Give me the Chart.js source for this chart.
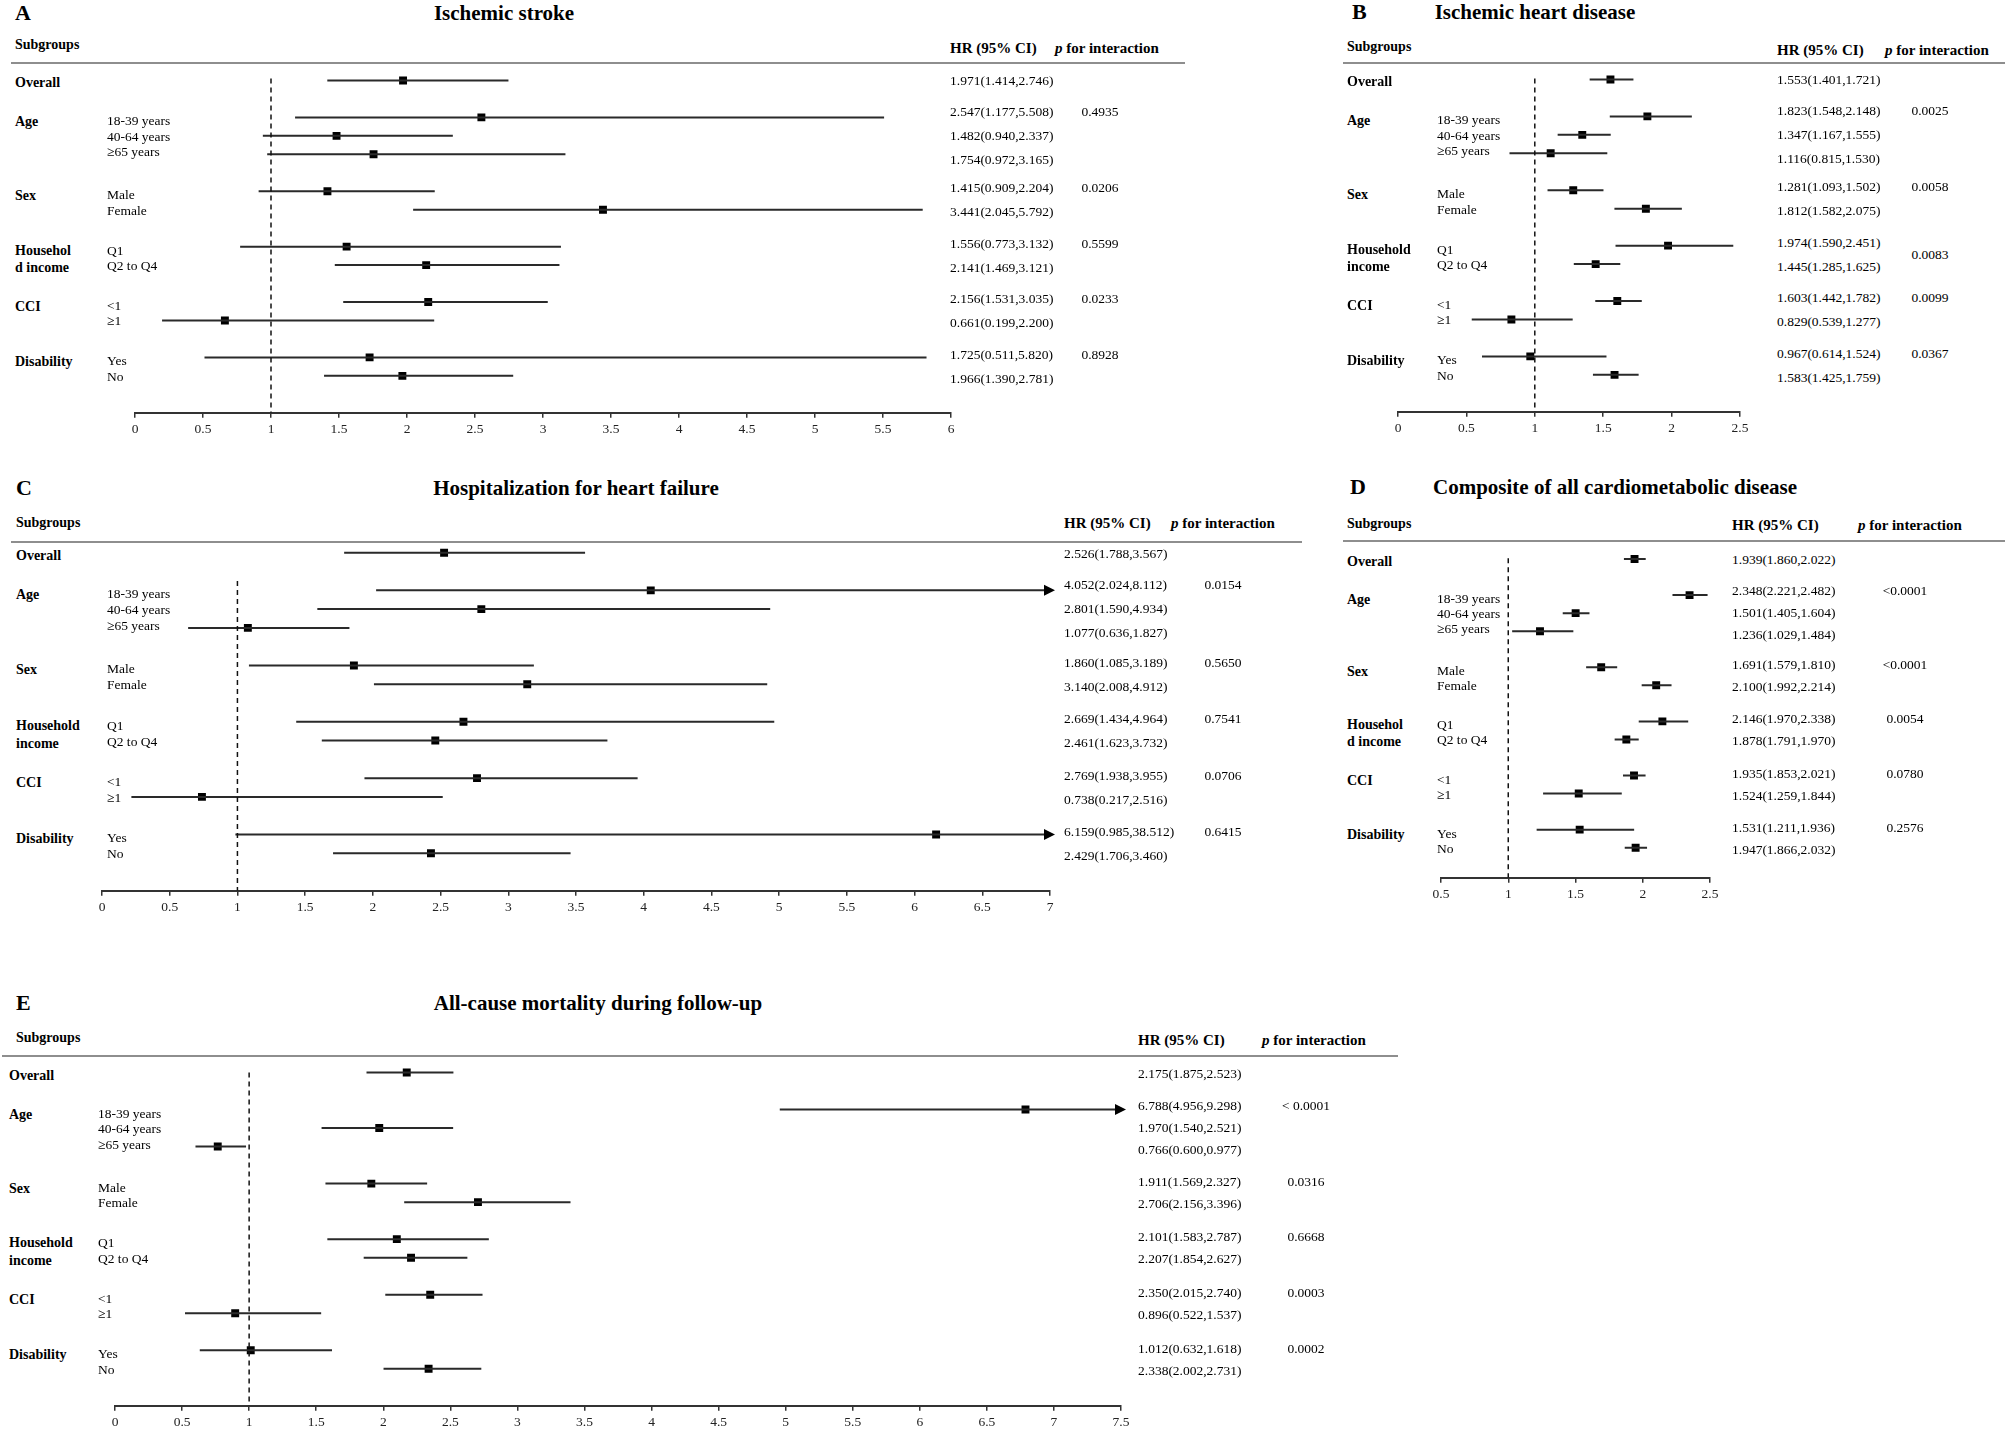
<!DOCTYPE html>
<html>
<head>
<meta charset="utf-8">
<script src="https://cdn.jsdelivr.net/npm/chart.js@4.4.0/dist/chart.umd.min.js"></script>
<style>
  html, body { margin: 0; padding: 0; background: #fff; }
  #page { position: relative; width: 2006px; height: 1430px; overflow: hidden;
          font-family: "Liberation Serif", "Times New Roman", serif; color: #000; }
  .t { position: absolute; white-space: nowrap; line-height: 1; transform: translateY(-50%); }
  .mid { transform: translate(-50%, -50%); }
  .b { font-weight: bold; }
  .rule { position: absolute; height: 2px; background: #8e8e8e; }
  canvas { position: absolute; }
</style>
</head>
<body>
<div id="page"></div>
<script>
// Subgroup structure (shared by all five panels)
const groupNames = ['Overall', 'Age', 'Sex', 'Household income', 'CCI', 'Disability'];
const rowLabels = ['', '18-39 years', '40-64 years', '≥65 years', 'Male', 'Female', 'Q1', 'Q2 to Q4', '<1', '≥1', 'Yes', 'No'];
const rowGroup = [0, 1, 1, 1, 2, 2, 3, 3, 4, 4, 5, 5];

// A - Ischemic stroke
const strokeHR = [1.971, 2.547, 1.482, 1.754, 1.415, 3.441, 1.556, 2.141, 2.156, 0.661, 1.725, 1.966];
const strokeLo = [1.414, 1.177, 0.940, 0.972, 0.909, 2.045, 0.773, 1.469, 1.531, 0.199, 0.511, 1.390];
const strokeHi = [2.746, 5.508, 2.337, 3.165, 2.204, 5.792, 3.132, 3.121, 3.035, 2.200, 5.820, 2.781];
const strokeP = ['0.4935', '0.0206', '0.5599', '0.0233', '0.8928'];
const strokeTicks = [0, 6];

// B - Ischemic heart disease
const ihdHR = [1.553, 1.823, 1.347, 1.116, 1.281, 1.812, 1.974, 1.445, 1.603, 0.829, 0.967, 1.583];
const ihdLo = [1.401, 1.548, 1.167, 0.815, 1.093, 1.582, 1.590, 1.285, 1.442, 0.539, 0.614, 1.425];
const ihdHi = [1.721, 2.148, 1.555, 1.530, 1.502, 2.075, 2.451, 1.625, 1.782, 1.277, 1.524, 1.759];
const ihdP = ['0.0025', '0.0058', '0.0083', '0.0099', '0.0367'];
const ihdTicks = [0, 2.5];

// C - Hospitalization for heart failure
const hfHR = [2.526, 4.052, 2.801, 1.077, 1.860, 3.140, 2.669, 2.461, 2.769, 0.738, 6.159, 2.429];
const hfLo = [1.788, 2.024, 1.590, 0.636, 1.085, 2.008, 1.434, 1.623, 1.938, 0.217, 0.985, 1.706];
const hfHi = [3.567, 8.112, 4.934, 1.827, 3.189, 4.912, 4.964, 3.732, 3.955, 2.516, 38.512, 3.460];
const hfP = ['0.0154', '0.5650', '0.7541', '0.0706', '0.6415'];
const hfTicks = [0, 7];

// D - Composite of all cardiometabolic disease
const cmdHR = [1.939, 2.348, 1.501, 1.236, 1.691, 2.100, 2.146, 1.878, 1.935, 1.524, 1.531, 1.947];
const cmdLo = [1.860, 2.221, 1.405, 1.029, 1.579, 1.992, 1.970, 1.791, 1.853, 1.259, 1.211, 1.866];
const cmdHi = [2.022, 2.482, 1.604, 1.484, 1.810, 2.214, 2.338, 1.970, 2.021, 1.844, 1.936, 2.032];
const cmdP = ['<0.0001', '<0.0001', '0.0054', '0.0780', '0.2576'];
const cmdTicks = [0.5, 2.5];

// E - All-cause mortality during follow-up
const mortHR = [2.175, 6.788, 1.970, 0.766, 1.911, 2.706, 2.101, 2.207, 2.350, 0.896, 1.012, 2.338];
const mortLo = [1.875, 4.956, 1.540, 0.600, 1.569, 2.156, 1.583, 1.854, 2.015, 0.522, 0.632, 2.002];
const mortHi = [2.523, 9.298, 2.521, 0.977, 2.327, 3.396, 2.787, 2.627, 2.740, 1.537, 1.618, 2.731];
const mortP = ['< 0.0001', '0.0316', '0.6668', '0.0003', '0.0002'];
const mortTicks = [0, 7.5];

// page layout of each panel
const panels = [
  { letter: 'A', title: 'Ischemic stroke', hr: strokeHR, lo: strokeLo, hi: strokeHi, p: strokeP, range: strokeTicks,
    house: ['Househol', 'd income'], left: 135, right: 951, row0: 80, axisY: 412, yMax: 18, refTop: -0.1,
    letterX: 15, titleX: 504, titleY: 13, subX0: 15, subY: 45, headY: 48, ruleY: 63, ruleL: 11, ruleR: 1185,
    labelX: 15, subX: 107, hrX: 950, pX: 1100, pHeadX: 1055, gap: 24, pMid: [] },
  { letter: 'B', title: 'Ischemic heart disease', hr: ihdHR, lo: ihdLo, hi: ihdHi, p: ihdP, range: ihdTicks,
    house: ['Household', 'income'], left: 1398, right: 1740, row0: 79, axisY: 411, yMax: 18, refTop: -0.05,
    letterX: 1352, titleX: 1535, titleY: 12, subX0: 1347, subY: 47, headY: 50, ruleY: 63, ruleL: 1343, ruleR: 2005,
    labelX: 1347, subX: 1437, hrX: 1777, pX: 1930, pHeadX: 1885, gap: 24, pMid: [3] },
  { letter: 'C', title: 'Hospitalization for heart failure', hr: hfHR, lo: hfLo, hi: hfHi, p: hfP, range: hfTicks,
    house: ['Household', 'income'], left: 102, right: 1050, row0: 553, axisY: 890, yMax: 18, refTop: 1.5,
    letterX: 16, titleX: 576, titleY: 488, subX0: 16, subY: 523, headY: 523, ruleY: 542, ruleL: 11, ruleR: 1302,
    labelX: 16, subX: 107, hrX: 1064, pX: 1223, pHeadX: 1171, gap: 24, pMid: [] },
  { letter: 'D', title: 'Composite of all cardiometabolic disease', hr: cmdHR, lo: cmdLo, hi: cmdHi, p: cmdP, range: cmdTicks,
    house: ['Househol', 'd income'], left: 1441, right: 1710, row0: 559, axisY: 877, yMax: 17.67, refTop: -0.05,
    letterX: 1350, titleX: 1615, titleY: 487, subX0: 1347, subY: 524, headY: 525, ruleY: 541, ruleL: 1343, ruleR: 2005,
    labelX: 1347, subX: 1437, hrX: 1732, pX: 1905, pHeadX: 1858, gap: 22, pMid: [] },
  { letter: 'E', title: 'All-cause mortality during follow-up', hr: mortHR, lo: mortLo, hi: mortHi, p: mortP, range: mortTicks,
    house: ['Household', 'income'], left: 115, right: 1121, row0: 1072, axisY: 1405, yMax: 18, refTop: 0,
    letterX: 16, titleX: 598, titleY: 1003, subX0: 16, subY: 1038, headY: 1040, ruleY: 1056, ruleL: 2, ruleR: 1398,
    labelX: 9, subX: 98, hrX: 1138, pX: 1306, pHeadX: 1262, gap: 22, pMid: [] }
];

const TICK_FONT = 13.5;
const page = document.getElementById('page');

function text(str, x, y, size, cls) {
  const d = document.createElement('div');
  d.className = 't ' + (cls || '');
  d.style.left = x + 'px';
  d.style.top = y + 'px';
  d.style.fontSize = size + 'px';
  d.textContent = str;
  page.appendChild(d);
  return d;
}

function buildPanel(pn) {
  const [xMin, xMax] = pn.range;
  const step = (pn.axisY - pn.row0) / pn.yMax;
  const top = Math.round(pn.row0 - step);
  const W = pn.right - pn.left + 40;
  // axis box = tick length + label line height + 2 * tick padding, then bottom padding
  const H = Math.ceil((pn.axisY - top) + 5 + TICK_FONT * 1.2 + 8 + 5);

  const cv = document.createElement('canvas');
  cv.width = W; cv.height = H;
  cv.style.left = (pn.left - 20) + 'px';
  cv.style.top = top + 'px';
  cv.style.width = W + 'px';
  cv.style.height = H + 'px';
  page.appendChild(cv);

  const slots = rowGroup.map((g, i) => i + g);
  const pts = pn.hr.map((v, i) => ({ x: v, y: slots[i] }));
  const ci = [];
  pn.lo.forEach((lo, i) => {
    const hi = Math.min(pn.hi[i], xMax);
    ci.push({ x: lo, y: slots[i] }, { x: hi, y: slots[i] }, { x: hi, y: null });
  });
  const ref = [{ x: 1, y: pn.refTop }, { x: 1, y: pn.yMax }];

  // arrowheads for intervals running past the axis
  const arrows = {
    id: 'arrows',
    afterDatasetsDraw(chart) {
      const { ctx, scales: { x, y } } = chart;
      ctx.save();
      ctx.fillStyle = '#000';
      pn.hi.forEach((hi, i) => {
        if (hi <= xMax) return;
        const px = x.getPixelForValue(xMax), py = y.getPixelForValue(slots[i]);
        ctx.beginPath();
        ctx.moveTo(px + 5, py);
        ctx.lineTo(px - 6, py - 5.5);
        ctx.lineTo(px - 6, py + 5.5);
        ctx.closePath();
        ctx.fill();
      });
      ctx.restore();
    }
  };

  const chart = new Chart(cv, {
    type: 'scatter',
    data: {
      datasets: [
        { type: 'line', data: ref, borderColor: '#111', borderWidth: 1.5, borderDash: [5, 4], pointRadius: 0, fill: false },
        { type: 'line', data: ci, borderColor: '#2a2a2a', borderWidth: 2, pointRadius: 0, spanGaps: false, fill: false },
        { data: pts, pointStyle: 'rect', pointRadius: 5.6, backgroundColor: '#000', borderColor: '#000', borderWidth: 0 }
      ]
    },
    options: {
      responsive: false,
      animation: false,
      events: [],
      layout: { padding: { left: 20, right: 20, top: 0, bottom: 5 }, autoPadding: false },
      plugins: { legend: { display: false }, tooltip: { enabled: false } },
      scales: {
        x: {
          type: 'linear', min: xMin, max: xMax, position: 'bottom',
          ticks: { stepSize: 0.5, autoSkip: false, maxRotation: 0, padding: 4, color: '#222',
                   font: { family: 'Liberation Serif', size: TICK_FONT }, callback: v => String(v) },
          grid: { drawOnChartArea: false, drawTicks: true, tickLength: 5, color: '#333', lineWidth: 1.5 },
          border: { display: true, color: '#333', width: 2 }
        },
        y: { type: 'linear', display: false, min: -1, max: pn.yMax, reverse: true }
      }
    },
    plugins: [arrows]
  });

  // text parts
  text(pn.letter, pn.letterX, pn.titleY, 22, 'b');
  text(pn.title, pn.titleX, pn.titleY, 21, 'b mid');
  text('Subgroups', pn.subX0, pn.subY, 14, 'b');
  text('HR (95% CI)', pn.hrX, pn.headY, 15, 'b');
  const ph = text('', pn.pHeadX, pn.headY, 15, 'b');
  ph.innerHTML = '<i>p</i> for interaction';
  const rule = document.createElement('div');
  rule.className = 'rule';
  rule.style.left = pn.ruleL + 'px';
  rule.style.top = (pn.ruleY - 1) + 'px';
  rule.style.width = (pn.ruleR - pn.ruleL) + 'px';
  page.appendChild(rule);

  const yPix = s => top + chart.scales.y.getPixelForValue(s);
  groupNames.forEach((name, g) => {
    const rows = rowGroup.map((gg, i) => (gg === g ? i : -1)).filter(i => i >= 0);
    const yFirst = yPix(slots[rows[0]]);
    const yLast = yPix(slots[rows[rows.length - 1]]);
    if (g === 3) {
      text(pn.house[0], pn.labelX, yFirst + 4, 14, 'b');
      text(pn.house[1], pn.labelX, yLast + 3, 14, 'b');
    } else {
      text(name, pn.labelX, yFirst + (g === 0 ? 3 : 5), 14, 'b');
    }
    const c = (yFirst + yLast) / 2;
    rows.forEach((r, k) => {
      if (rowLabels[r]) text(rowLabels[r], pn.subX, yPix(slots[r]) + 4 - 3 * k, 13.5);
      const ty = g === 0 ? yPix(slots[r]) + 1 : c + (k - (rows.length - 1) / 2) * pn.gap;
      text(pn.hr[r].toFixed(3) + '(' + pn.lo[r].toFixed(3) + ',' + pn.hi[r].toFixed(3) + ')', pn.hrX, ty, 13.5);
      if (g > 0 && k === 0) text(pn.p[g - 1], pn.pX, pn.pMid.includes(g) ? c : ty, 13.5, 'mid');
    });
  });
}

panels.forEach(buildPanel);
</script>
</body>
</html>
